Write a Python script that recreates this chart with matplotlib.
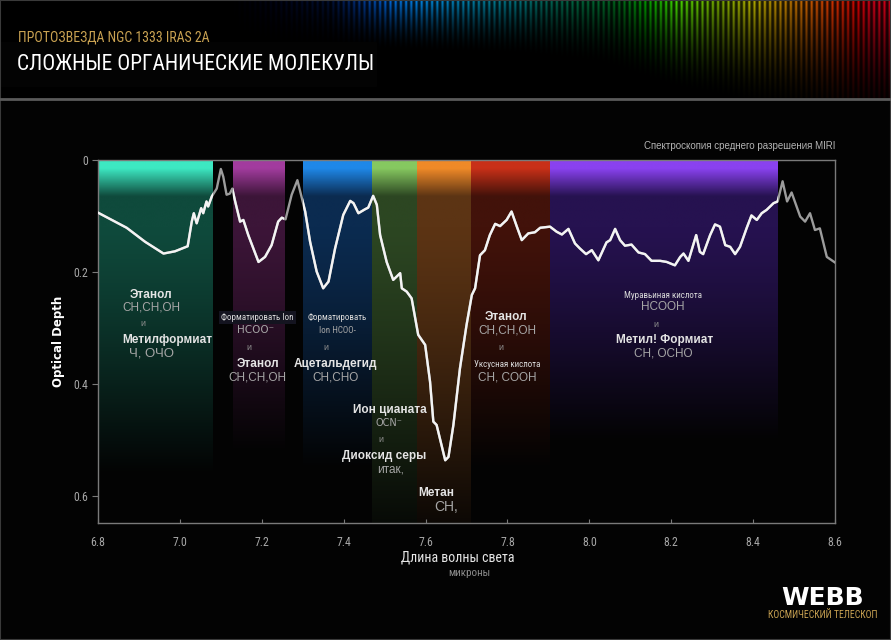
import numpy as np
import matplotlib
matplotlib.use("Agg")
import matplotlib.pyplot as plt
from matplotlib import font_manager as fm
from matplotlib.patches import Rectangle
from matplotlib.lines import Line2D
from matplotlib.colors import to_rgb

plt.rcParams['font.family'] = ['Liberation Sans', 'DejaVu Sans']
_have = {f.name for f in fm.fontManager.ttflist}
NARROW = [n for n in ['Roboto Condensed', 'Liberation Sans Narrow'] if n in _have][:1] + ['DejaVu Sans']

# спектр: длина волны (мкм) и оптическая толщина
wl = [6.800, 6.870, 6.915, 6.960, 6.988, 7.019, 7.029, 7.034, 7.041, 7.052,
      7.057, 7.065, 7.069, 7.078, 7.090, 7.100, 7.106, 7.114, 7.122, 7.128,
      7.135, 7.147, 7.155, 7.167, 7.192, 7.208, 7.224, 7.240, 7.249, 7.258,
      7.273, 7.287, 7.306, 7.318, 7.334, 7.350, 7.363, 7.379, 7.399, 7.416,
      7.424, 7.436, 7.452, 7.460, 7.472, 7.481, 7.489, 7.505, 7.521, 7.538,
      7.542, 7.554, 7.566, 7.582, 7.599, 7.611, 7.619, 7.627, 7.648, 7.656,
      7.668, 7.684, 7.700, 7.713, 7.721, 7.733, 7.745, 7.757, 7.770, 7.782,
      7.798, 7.810, 7.823, 7.835, 7.851, 7.867, 7.880, 7.904, 7.920, 7.933,
      7.949, 7.965, 7.977, 7.992, 8.006, 8.022, 8.042, 8.051, 8.063, 8.075,
      8.087, 8.103, 8.120, 8.136, 8.152, 8.173, 8.189, 8.209, 8.222, 8.230,
      8.242, 8.261, 8.270, 8.278, 8.295, 8.307, 8.319, 8.332, 8.344, 8.356,
      8.368, 8.384, 8.396, 8.409, 8.421, 8.433, 8.450, 8.460, 8.472, 8.483,
      8.494, 8.515, 8.527, 8.539, 8.551, 8.563, 8.580, 8.600]
depth = [0.094, 0.121, 0.146, 0.167, 0.163, 0.154, 0.110, 0.095, 0.113, 0.086,
         0.095, 0.074, 0.083, 0.065, 0.051, 0.016, 0.030, 0.062, 0.060, 0.051,
         0.074, 0.110, 0.107, 0.134, 0.182, 0.173, 0.152, 0.110, 0.103, 0.106,
         0.062, 0.036, 0.092, 0.146, 0.199, 0.229, 0.217, 0.158, 0.098, 0.073,
         0.077, 0.095, 0.088, 0.085, 0.064, 0.080, 0.134, 0.182, 0.214, 0.202,
         0.229, 0.235, 0.247, 0.312, 0.330, 0.396, 0.467, 0.473, 0.536, 0.530,
         0.473, 0.372, 0.295, 0.241, 0.229, 0.170, 0.161, 0.134, 0.114, 0.118,
         0.107, 0.092, 0.119, 0.143, 0.131, 0.129, 0.121, 0.119, 0.128, 0.133,
         0.123, 0.149, 0.158, 0.168, 0.161, 0.179, 0.147, 0.143, 0.123, 0.143,
         0.153, 0.151, 0.165, 0.168, 0.180, 0.180, 0.182, 0.188, 0.173, 0.167,
         0.180, 0.134, 0.164, 0.168, 0.134, 0.115, 0.119, 0.152, 0.155, 0.168,
         0.155, 0.122, 0.099, 0.107, 0.095, 0.089, 0.077, 0.074, 0.038, 0.074,
         0.058, 0.101, 0.110, 0.095, 0.125, 0.122, 0.173, 0.183]

# полосы поглощения
band_start = [6.80, 7.13, 7.30, 7.47, 7.58, 7.71, 7.905]
band_end = [7.08, 7.255, 7.47, 7.58, 7.71, 7.905, 8.46]
band_top = ['#3de8c2', '#a23c9e', '#1f88e8', '#86c860', '#f08a28', '#c83018', '#8a42f0']
band_body = ['#0f4a3c', '#3c1538', '#0b2b50', '#2c4622', '#5c3414', '#42120a', '#261250']
band_fade = [0.56, 0.52, 0.55, 0.70, 0.70, 0.55, 0.50]

xticks = [6.8, 7.0, 7.2, 7.4, 7.6, 7.8, 8.0, 8.2, 8.4, 8.6]
yticks = [0, 0.2, 0.4, 0.6]
YMAX = 0.648
BG = '#030303'

W, H = 891, 640
fig = plt.figure(figsize=(W / 100, H / 100), dpi=100, facecolor=BG)

# шапка с радужными полосами
hax = fig.add_axes([0, 1 - 98 / H, 1, 98 / H])
hax.set_axis_off()
xs = np.arange(W)
ys = np.arange(98)
hue = np.interp(xs, [230, 360, 520, 600, 678, 776, 819, 870],
                [0.76, 0.70, 0.60, 0.48, 0.34, 0.17, 0.10, 0.01])
cols = plt.get_cmap('gist_rainbow')(hue)[:, :3]
env = np.interp(xs, [230, 330, 390, 420, 470, 540, 620, 678, 720, 776, 830, 891],
                [0.0, 0.2, 0.85, 0.9, 0.65, 0.4, 0.4, 0.85, 0.65, 0.7, 0.8, 0.8])
reach = np.interp(xs, [230, 520, 600, 678, 776, 850, 891], [45, 55, 65, 90, 110, 130, 130])
stripes = 0.2 + 0.8 * (0.5 + 0.5 * np.cos(2 * np.pi * xs / 5.2)) ** 1.5
vert = np.clip(1 - ys[:, None] / reach[None, :], 0, 1) ** 1.8
img = cols[None, :, :] * (env * stripes)[None, :, None] * vert[:, :, None]
hax.imshow(np.clip(img, 0, 1), aspect='auto', extent=[0, W, 98, 0])
hax.add_patch(Rectangle((0, 42), 376, 44, color=BG))
hax.set_xlim(0, W)
hax.set_ylim(98, 0)

fig.text(18 / W, 1 - 37 / H, 'ПРОТОЗВЕЗДА NGC 1333 IRAS 2A', color='#c9a252',
         fontsize=10, family=NARROW, stretch='condensed', va='center')
fig.text(17 / W, 1 - 64 / H, 'СЛОЖНЫЕ ОРГАНИЧЕСКИЕ МОЛЕКУЛЫ', color='white',
         fontsize=15.5, family=NARROW, stretch='condensed', va='center')
fig.add_artist(Line2D([0, 1], [1 - 99 / H] * 2, color='#5a5a5a', lw=2))

# основной график
ax = fig.add_axes([98 / W, 1 - 523 / H, (835 - 98) / W, (523 - 160) / H])
ax.set_facecolor(BG)

dd = np.linspace(0, YMAX, 400)
for s, e, tc, bc, fe in zip(band_start, band_end, band_top, band_body, band_fade):
    t = np.clip((dd - 0.014) / 0.05, 0, 1)
    c = np.array(to_rgb(tc))[None, :] * (1 - t[:, None]) + np.array(to_rgb(bc))[None, :] * t[:, None]
    f = 1 - np.clip((dd - 0.12) / (fe - 0.12), 0, 1) ** 1.2
    c = c * f[:, None] + 0.012 * (1 - f[:, None])
    ax.imshow(c[:, None, :], aspect='auto', extent=[s, e, YMAX, 0], zorder=0,
              interpolation='bilinear')

ax.plot(wl, depth, color='#9c9c9c', lw=1.7, zorder=3, solid_joinstyle='round')
for s, e in zip(band_start, band_end):
    ln, = ax.plot(wl, depth, color='#f4f4f4', lw=1.7, zorder=4, solid_joinstyle='round')
    ln.set_clip_path(Rectangle((s, 0), e - s, YMAX, transform=ax.transData))

ax.set_xlim(6.8, 8.6)
ax.set_ylim(YMAX, 0)
ax.set_xticks(xticks)
ax.set_xticklabels([f'{v:.1f}' for v in xticks])
ax.set_yticks(yticks)
ax.set_yticklabels(['0', '0.2', '0.4', '0.6'])
for sp in ax.spines.values():
    sp.set_color('#7a7a7a')
    sp.set_linewidth(1)
ax.tick_params(axis='x', direction='in', length=3, color='#7a7a7a', pad=9,
               labelcolor='#a8a8a8', labelsize=8.5)
ax.tick_params(axis='y', direction='out', length=4, color='#7a7a7a', pad=3,
               labelcolor='#a8a8a8', labelsize=8.5)
for lb in ax.get_xticklabels() + ax.get_yticklabels():
    lb.set_family(NARROW)
    lb.set_stretch('condensed')
ax.set_ylabel('Optical Depth', color='white', fontsize=8.5, fontweight='bold',
              family='DejaVu Sans', labelpad=6)


def label(x, y, s, kind='name', **kw):
    style = {'name': dict(color='#e4e4e4', fontsize=8.5, fontweight='bold'),
             'formula': dict(color='#a6a6a6', fontsize=8.5),
             'and': dict(color='#8c8c8c', fontsize=6.5),
             'small': dict(color='#d8d8d8', fontsize=6.5, family=NARROW,
                           stretch='condensed')}[kind]
    style.update(kw)
    ax.text(x, y, s, ha='center', va='center', zorder=5, **style)


label(6.93, 0.241, 'Этанол')
label(6.93, 0.264, 'CH,CH,OH', 'formula')
label(6.91, 0.291, 'и', 'and')
label(6.97, 0.322, 'Метилформиат')
label(6.93, 0.346, 'Ч, ОЧО', 'formula', fontsize=9.5)

label(7.19, 0.281, 'Форматировать Ion', 'small',
      bbox=dict(facecolor='#141420', edgecolor='none', pad=1.5))
label(7.184, 0.304, 'HCOO⁻', 'formula', fontsize=7.5, family='DejaVu Sans')
label(7.168, 0.335, 'и', 'and')
label(7.19, 0.365, 'Этанол')
label(7.19, 0.388, 'CH,CH,OH', 'formula')

label(7.385, 0.281, 'Форматировать', 'small')
label(7.385, 0.304, 'Ion HCOO-', 'small', color='#a6a6a6')
label(7.357, 0.335, 'и', 'and')
label(7.38, 0.364, 'Ацетальдегид')
label(7.38, 0.388, 'CH,CHO', 'formula')

label(7.514, 0.446, 'Ион цианата')
label(7.51, 0.469, 'OCN⁻', 'formula', fontsize=7, family='DejaVu Sans')
label(7.49, 0.499, 'и', 'and')
label(7.5, 0.528, 'Диоксид серы')
label(7.515, 0.553, 'итак,', 'formula')

label(7.627, 0.595, 'Метан')
label(7.65, 0.620, 'CH,', 'formula', fontsize=10)

label(7.797, 0.281, 'Этанол')
label(7.8, 0.304, 'CH,CH,OH', 'formula')
label(7.785, 0.335, 'и', 'and')
label(7.8, 0.365, 'Уксусная кислота', 'small')
label(7.8, 0.388, 'CH, COOH', 'formula')

label(8.18, 0.241, 'Муравьиная кислота', 'small')
label(8.18, 0.262, 'HCOOH', 'formula')
label(8.163, 0.293, 'и', 'and')
label(8.185, 0.321, 'Метил! Формиат')
label(8.18, 0.345, 'CH, OCHO', 'formula')

fig.text(835 / W, 1 - 146 / H, 'Спектроскопия среднего разрешения MIRI', color='#b4b4b4',
         fontsize=7, ha='right', va='center')
fig.text(458 / W, 1 - 557 / H, 'Длина волны света', color='#e6e6e6', fontsize=10,
         family=NARROW, stretch='condensed', ha='center', va='center')
fig.text(469 / W, 1 - 573 / H, 'микроны', color='#8a8a8a', fontsize=8,
         family=NARROW, stretch='condensed', ha='center', va='center')

# логотип
fig.text(823 / W, 1 - 598 / H, 'WEBB', color='white', fontsize=18, fontweight='heavy',
         family='DejaVu Sans', ha='center', va='center')
fig.text(823 / W, 1 - 615 / H, 'КОСМИЧЕСКИЙ ТЕЛЕСКОП', color='#c9a252', fontsize=7,
         family=NARROW, stretch='condensed', ha='center', va='center')

fig.add_artist(Rectangle((0, 0), 1, 1, transform=fig.transFigure, fill=False,
                         edgecolor='#3a3a3a', lw=1.5))

fig.savefig('out.png', dpi=100, facecolor=BG)
